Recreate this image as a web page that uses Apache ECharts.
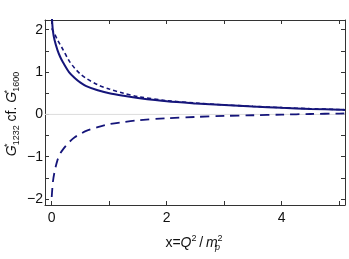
<!DOCTYPE html>
<html>
<head>
<meta charset="utf-8">
<script src="https://cdn.jsdelivr.net/npm/echarts@6/dist/echarts.min.js"></script>
<style>html,body{margin:0;padding:0;background:#fff}#c{width:349px;height:259px}</style>
</head>
<body>
<div id="c"></div>
<script>
var xs = [0, 0.02, 0.05, 0.1, 0.15, 0.2, 0.3, 0.4, 0.5, 0.6, 0.8, 1.0, 1.25, 1.5, 2, 2.5, 3, 3.5, 4, 4.5, 5, 5.1];
var solidVals = [2.35, 1.98, 1.75, 1.52, 1.35, 1.22, 1.00, 0.86, 0.75, 0.67, 0.57, 0.50, 0.44, 0.39, 0.31, 0.26, 0.22, 0.185, 0.155, 0.13, 0.11, 0.105];
var shortDashVals = [2.03, 1.98, 1.90, 1.76, 1.64, 1.52, 1.27, 1.09, 0.95, 0.85, 0.70, 0.60, 0.50, 0.42, 0.325, 0.27, 0.225, 0.19, 0.16, 0.135, 0.115, 0.11];
var longDashVals = [-1.95, -1.6, -1.35, -1.08, -0.92, -0.82, -0.66, -0.54, -0.46, -0.39, -0.30, -0.23, -0.18, -0.14, -0.09, -0.06, -0.035, -0.02, -0.005, 0.01, 0.02, 0.025];
var xTicks = [0, 1, 2, 3, 4, 5];
var xTickLabels = [0, 2, 4];
var yTicks = [-2, -1.5, -1, -0.5, 0, 0.5, 1, 1.5, 2];
var yTickLabels = [-2, -1, 0, 1, 2];
var xTitle = '{t|x=}{i|Q}{sup|2}{t|\u2009/\u2009}{i|m}{subz|p}{sup|2}';
var yTitle = '{i|G}{supz|*}{sub|1232}{t| cf. }{i|G}{supz|*}{sub|1600}';

function pairs(vals) { return xs.map(function (x, i) { return [x, vals[i]]; }); }
var navy = '#15157a';
var axisColor = '#333';
var txt = '#111';
var fmt = function (v) { return String(v).replace('-', '\u2212'); };
var baseFont = 'Liberation Sans, Arial, sans-serif';
var rich = {
  t: { fontSize: 14, fill: txt, fontFamily: baseFont, lineHeight: 18 },
  i: { fontSize: 14, fill: txt, fontStyle: 'italic', fontFamily: baseFont, lineHeight: 18 },
  sup: { fontSize: 9, fill: txt, fontFamily: baseFont, verticalAlign: 'top', lineHeight: 10 },
  supz: { fontSize: 9, fill: txt, fontFamily: baseFont, verticalAlign: 'top', lineHeight: 10, width: 0.01 },
  sub: { fontSize: 9, fill: txt, fontFamily: baseFont, verticalAlign: 'bottom', lineHeight: 10 },
  subz: { fontSize: 9, fill: txt, fontStyle: 'italic', fontFamily: baseFont, verticalAlign: 'bottom', lineHeight: 10, width: 0.01 }
};

var common = {
  axisLine: { show: true, onZero: false, lineStyle: { color: axisColor, width: 1 } },
  splitLine: { show: false }
};

var chart = echarts.init(document.getElementById('c'));
chart.setOption({
  animation: false,
  backgroundColor: '#fff',
  grid: { left: 45, right: 4, top: 20, bottom: 54, containLabel: false },
  xAxis: [
    Object.assign({}, common, {
      type: 'value', min: -0.117, max: 5.1, position: 'bottom',
      axisTick: { show: true, inside: true, length: 4, customValues: xTicks, lineStyle: { color: axisColor } },
      axisLabel: { customValues: xTickLabels, formatter: fmt, fontSize: 14, color: txt, margin: 6, fontFamily: baseFont }
    }),
    Object.assign({}, common, {
      type: 'value', min: -0.117, max: 5.1, position: 'top',
      axisTick: { show: true, inside: true, length: 4, customValues: xTicks, lineStyle: { color: axisColor } },
      axisLabel: { show: false }
    })
  ],
  yAxis: [
    Object.assign({}, common, {
      type: 'value', min: -2.14, max: 2.23, position: 'left',
      axisTick: { show: true, inside: true, length: 4, customValues: yTicks, lineStyle: { color: axisColor } },
      axisLabel: { customValues: yTickLabels, formatter: fmt, fontSize: 14, color: txt, margin: 2, fontFamily: baseFont }
    }),
    Object.assign({}, common, {
      type: 'value', min: -2.14, max: 2.23, position: 'right',
      axisTick: { show: true, inside: true, length: 4, customValues: yTicks, lineStyle: { color: axisColor } },
      axisLabel: { show: false }
    })
  ],
  graphic: [
    {
      type: 'text', x: 194, y: 243,
      style: { text: xTitle, rich: rich, align: 'center', verticalAlign: 'middle' }
    },
    {
      type: 'text', x: 12, y: 114, rotation: Math.PI / 2,
      style: { text: yTitle, rich: rich, align: 'center', verticalAlign: 'middle' }
    }
  ],
  series: [
    {
      type: 'line', data: [[-0.117, 0], [5.1, 0]], symbol: 'none', silent: true,
      lineStyle: { color: '#dcdcdc', width: 1 }, z: 1
    },
    {
      type: 'line', data: pairs(longDashVals), symbol: 'none', smooth: 0.3,
      lineStyle: { color: navy, width: 1.8, type: [9, 6] }, z: 2
    },
    {
      type: 'line', data: pairs(shortDashVals), symbol: 'none', smooth: 0.3,
      lineStyle: { color: navy, width: 1.6, type: [4, 3] }, z: 3
    },
    {
      type: 'line', data: pairs(solidVals), symbol: 'none', smooth: 0.3,
      lineStyle: { color: navy, width: 2 }, z: 4
    }
  ]
});
</script>
</body>
</html>
